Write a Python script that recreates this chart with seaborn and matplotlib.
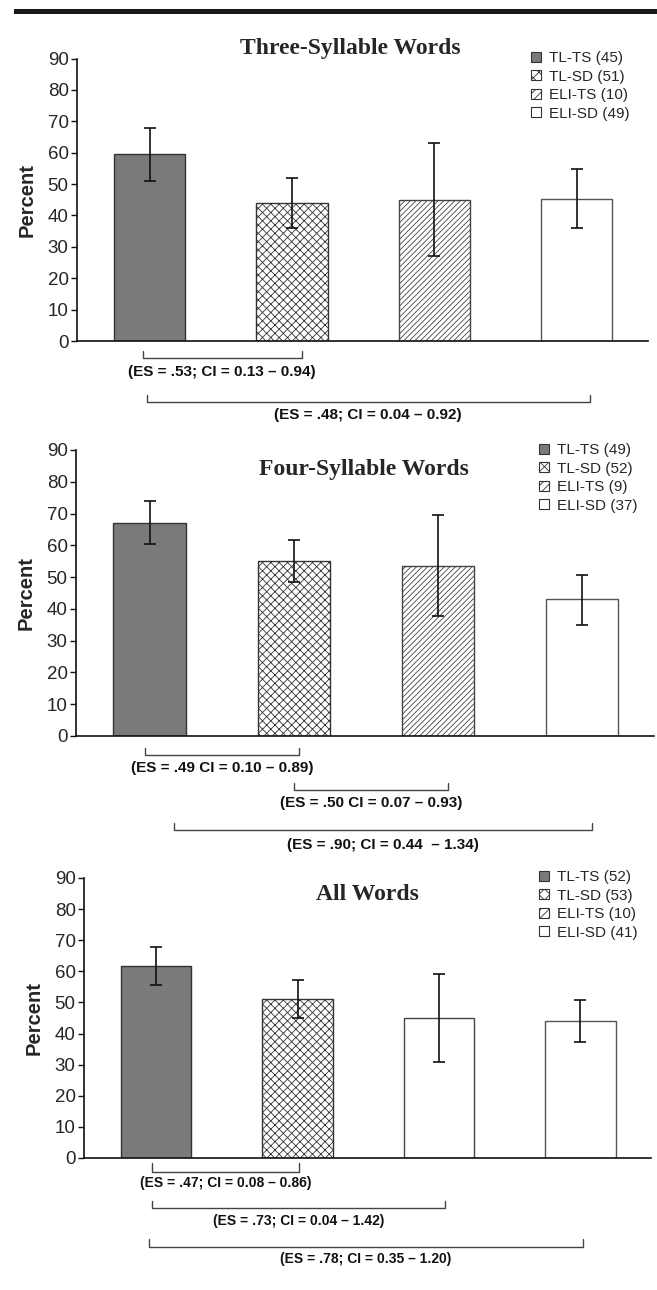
import numpy as np
import pandas as pd
import matplotlib
matplotlib.use('Agg')
import matplotlib.pyplot as plt
import seaborn as sns
from matplotlib.patches import Patch, Rectangle

# Data (percent correct, with 95% CI end points)
groups = ['TL-TS', 'TL-SD', 'ELI-TS', 'ELI-SD']

three_n = [45, 51, 10, 49]
three_mean = [59.5, 44.0, 45.0, 45.3]
three_lo = [51.0, 36.0, 27.0, 36.1]
three_hi = [68.0, 51.8, 63.0, 54.7]
three_es = ['(ES = .53; CI = 0.13 – 0.94)', '(ES = .48; CI = 0.04 – 0.92)']

four_n = [49, 52, 9, 37]
four_mean = [67.0, 55.1, 53.6, 43.0]
four_lo = [60.3, 48.4, 37.9, 35.0]
four_hi = [73.8, 61.8, 69.4, 50.8]
four_es = ['(ES = .49 CI = 0.10 – 0.89)', '(ES = .50 CI = 0.07 – 0.93)',
           '(ES = .90; CI = 0.44  – 1.34)']

all_n = [52, 53, 10, 41]
all_mean = [61.6, 51.0, 44.9, 44.0]
all_lo = [55.5, 45.0, 31.0, 37.3]
all_hi = [67.7, 57.1, 59.0, 50.8]
all_es = ['(ES = .47; CI = 0.08 – 0.86)', '(ES = .73; CI = 0.04 – 1.42)',
          '(ES = .78; CI = 0.35 – 1.20)']

# Styling
fills = ['#7a7a7a', 'white', 'white', 'white']
hatches = ['', 'xxxx', '//////', '']
leg_hatches = ['', 'xxx', '////', '']
edges = ['#333333', '#333333', '#444444', '#555555']

W, H = 657, 1290

sns.set_theme(style='white')
plt.rcParams['font.family'] = ['Liberation Sans', 'DejaVu Sans']
plt.rcParams['hatch.linewidth'] = 0.6
plt.rcParams['hatch.color'] = '#111111'

fig = plt.figure(figsize=(W / 100, H / 100), dpi=100)
fig.patch.set_facecolor('white')

# black rule at the top of the page
fig.add_artist(Rectangle((14 / W, 1 - 14 / H), 1 - 14 / W, 5 / H,
                         transform=fig.transFigure, color='#1a1a1a', lw=0))


def px_axes(left, top, right, bottom):
    return fig.add_axes([left / W, 1 - bottom / H, (right - left) / W, (bottom - top) / H])


# panel layout: axes box in pixels, title offset, legend placement, brackets
panels = [
    dict(title='Three-Syllable Words', n=three_n, mean=three_mean, lo=three_lo, hi=three_hi,
         es=three_es, box=(77, 58.5, 648, 341), title_y=10, title_x=0.478,
         leg=(531, 51),
         brackets=[(-0.05, 1.07, 17, 10, 31), (-0.02, 3.09, 61, 54, 74)],
         es_fs=11, hatch3=hatches[2]),
    dict(title='Four-Syllable Words', n=four_n, mean=four_mean, lo=four_lo, hi=four_hi,
         es=four_es, box=(76, 450, 654, 736), title_y=-20, title_x=0.499,
         leg=(539, 443),
         brackets=[(-0.03, 1.04, 19, 12, 32), (1.0, 2.07, 54, 47, 67), (0.17, 3.07, 94, 87, 109)],
         es_fs=11, hatch3=hatches[2]),
    dict(title='All Words', n=all_n, mean=all_mean, lo=all_lo, hi=all_hi,
         es=all_es, box=(84, 878, 651, 1158), title_y=-17, title_x=0.50,
         leg=(539, 870),
         brackets=[(-0.03, 1.01, 14, 5, 25), (-0.03, 2.04, 50, 43, 63), (-0.05, 3.02, 89, 81, 101)],
         es_fs=10, hatch3=''),
]

for p in panels:
    left, top, right, bottom = p['box']
    ax = px_axes(left, top, right, bottom)
    hpx = bottom - top

    df = pd.DataFrame({'group': groups, 'value': p['mean']})
    sns.barplot(data=df, x='group', y='value', hue='group', palette=fills,
                linewidth=1.0, width=0.5, legend=False, ax=ax)
    bar_hatch = [hatches[0], hatches[1], p['hatch3'], hatches[3]]
    for patch, h, ec in zip(ax.patches, bar_hatch, edges):
        patch.set_hatch(h)
        patch.set_edgecolor(ec)

    mean = np.array(p['mean'])
    yerr = [mean - np.array(p['lo']), np.array(p['hi']) - mean]
    ax.errorbar(np.arange(len(groups)), mean, yerr=yerr, fmt='none',
                ecolor='#111111', elinewidth=1.2, capsize=4, capthick=1.2, zorder=5)

    ax.set_xlim(-0.51, 3.5)
    ax.set_ylim(0, 90)
    ax.set_yticks(range(0, 91, 10))
    ax.set_xticks([])
    ax.set_xlabel('')
    ax.set_ylabel('Percent', fontsize=14.5, fontweight='bold', labelpad=8)
    ax.tick_params(axis='y', direction='out', length=4, width=1, labelsize=13.5,
                   color='#111111', pad=2, left=True)
    for s in ['top', 'right']:
        ax.spines[s].set_visible(False)
    for s in ['left', 'bottom']:
        ax.spines[s].set_color('#111111')
        ax.spines[s].set_linewidth(1.2)
    ax.patch.set_alpha(0)

    ax.text(p['title_x'], 1 + p['title_y'] / hpx, p['title'], transform=ax.transAxes,
            ha='center', va='center', fontsize=17, fontweight='bold',
            family=['Liberation Serif', 'DejaVu Serif'])

    handles = [Patch(facecolor=f, edgecolor='#333333', hatch=h, linewidth=0.8,
                     label=f'{g} ({n})')
               for g, n, f, h in zip(groups, p['n'], fills, leg_hatches)]
    lx, ly = p['leg']
    ax.legend(handles=handles, loc='upper left',
              bbox_to_anchor=((lx - left) / (right - left), 1 - (ly - top) / hpx),
              frameon=False, fontsize=11, handlelength=0.65, handleheight=0.65,
              handletextpad=0.5, labelspacing=0.3, borderpad=0, borderaxespad=0)

    trans = ax.get_xaxis_transform()
    for (x0, x1, yline, ytick, ytext), label in zip(p['brackets'], p['es']):
        yl, yt = -yline / hpx, -ytick / hpx
        ax.plot([x0, x0, x1, x1], [yt, yl, yl, yt], transform=trans, color='#444444',
                lw=1.0, clip_on=False)
        ax.text((x0 + x1) / 2, -ytext / hpx, label, transform=trans, ha='center',
                va='center', fontsize=p['es_fs'], fontweight='bold', color='#111111')

fig.savefig('out.png', dpi=100, facecolor='white')
